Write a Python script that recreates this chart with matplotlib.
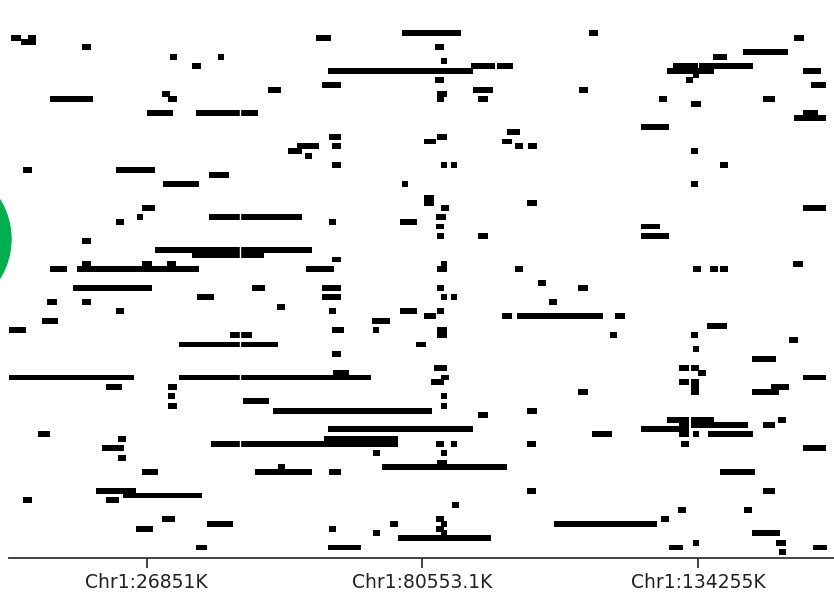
import matplotlib
matplotlib.use('Agg')
import matplotlib.pyplot as plt
from matplotlib.patches import Ellipse

# genome is shown in bins of ~194.9 Kb, rows are samples (top to bottom)
BIN_KB = 194.9
N_ROWS = 111.86
N_BINS = 825

tick_kb = [26851, 80553.1, 134255]
tick_labels = ['Chr1:26851K', 'Chr1:80553.1K', 'Chr1:134255K']

# sample row -> list of (start_bin, end_bin) blocks
row_ids = [0, 1, 2, 3, 4, 5, 6, 7, 8, 9, 10, 11, 12, 13, 14, 15, 17, 18, 20, 21,
           22, 23, 24, 25, 26, 28, 29, 30, 32, 35, 36, 37, 39, 40, 41, 43, 44, 46,
           47, 48, 49, 50, 53, 54, 56, 57, 58, 59, 60, 61, 62, 63, 64, 65, 66, 67,
           68, 69, 71, 72, 73, 74, 75, 76, 77, 78, 79, 80, 81, 82, 83, 84, 85, 86,
           87, 88, 89, 90, 91, 92, 93, 97, 98, 99, 100, 101, 103, 104, 105, 106,
           107, 108, 109, 110]
row_spans = [
    [(393, 452), (580, 589)],                                   # 0
    [(2, 12), (19, 27), (307, 322), (785, 795)],                # 1
    [(12, 27)],                                                 # 2
    [(73, 82), (426, 435)],                                     # 3
    [(734, 779)],                                               # 4
    [(161, 168), (209, 215), (704, 718)],                       # 5
    [(432, 438)],                                               # 6
    [(183, 192), (462, 486), (488, 504), (664, 689), (690, 744)],  # 7
    [(319, 464), (658, 705), (794, 812)],                       # 8
    [(684, 690)],                                               # 9
    [(426, 435), (677, 684)],                                   # 10
    [(313, 332), (802, 817)],                                   # 11
    [(259, 272), (464, 484), (570, 579)],                       # 12
    [(153, 161), (428, 438)],                                   # 13
    [(41, 84), (159, 168), (428, 435), (469, 479), (650, 658), (754, 766)],  # 14
    [(682, 692)],                                               # 15
    [(138, 164), (187, 249), (794, 809)],                       # 17
    [(785, 817)],                                               # 18
    [(632, 660)],                                               # 20
    [(498, 511)],                                               # 21
    [(320, 332), (428, 438)],                                   # 22
    [(415, 427), (493, 503)],                                   # 23
    [(288, 310), (323, 332), (506, 514), (519, 528)],           # 24
    [(279, 293), (682, 689)],                                   # 25
    [(296, 303)],                                               # 26
    [(323, 332), (432, 438), (442, 448), (711, 719)],           # 28
    [(14, 23), (107, 146)],                                     # 29
    [(200, 220)],                                               # 30
    [(154, 190), (393, 399), (682, 689)],                       # 32
    [(415, 425)],                                               # 35
    [(415, 425), (518, 528)],                                   # 36
    [(133, 146), (432, 440), (794, 817)],                       # 37
    [(128, 134), (200, 293), (427, 437)],                       # 39
    [(107, 115), (320, 327), (391, 408)],                       # 40
    [(427, 435), (632, 651)],                                   # 41
    [(428, 435), (469, 479), (632, 660)],                       # 43
    [(73, 82)],                                                 # 44
    [(146, 303)],                                               # 46
    [(183, 255)],                                               # 47
    [(323, 332)],                                               # 48
    [(73, 82), (133, 143), (158, 167), (432, 438), (784, 794)],  # 49
    [(41, 58), (68, 190), (297, 325), (428, 438), (506, 514), (684, 692),
     (701, 709), (711, 719)],                                   # 50
    [(529, 537)],                                               # 53
    [(64, 143), (243, 256), (313, 332), (428, 435), (569, 579)],  # 54
    [(188, 205), (313, 332), (432, 438), (442, 448)],           # 56
    [(38, 48), (73, 82), (540, 548)],                           # 57
    [(268, 276)],                                               # 58
    [(107, 115), (320, 327), (391, 408), (428, 435)],           # 59
    [(415, 427), (493, 503), (508, 594), (606, 616)],           # 60
    [(33, 49), (363, 381)],                                     # 61
    [(698, 718)],                                               # 62
    [(0, 17), (323, 335), (364, 370), (428, 438)],              # 63
    [(221, 243), (428, 438), (601, 608), (682, 689)],           # 64
    [(780, 789)],                                               # 65
    [(170, 269), (407, 417)],                                   # 66
    [(684, 690)],                                               # 67
    [(323, 332)],                                               # 68
    [(743, 767)],                                               # 69
    [(425, 438), (670, 680), (682, 690)],                       # 71
    [(324, 340), (689, 697)],                                   # 72
    [(0, 125), (170, 362), (432, 440), (794, 817)],             # 73
    [(422, 435), (670, 680), (682, 690)],                       # 74
    [(97, 113), (159, 168), (682, 690), (762, 780)],            # 75
    [(569, 579), (682, 690), (743, 770)],                       # 76
    [(159, 166), (432, 438)],                                   # 77
    [(234, 260)],                                               # 78
    [(159, 168), (432, 438)],                                   # 79
    [(264, 423), (518, 528)],                                   # 80
    [(469, 479)],                                               # 81
    [(658, 680), (682, 705), (769, 777)],                       # 82
    [(670, 680), (682, 739), (754, 766)],                       # 83
    [(319, 464), (632, 680)],                                   # 84
    [(29, 41), (583, 603), (670, 680), (684, 690), (699, 744)],  # 85
    [(109, 117), (315, 389)],                                   # 86
    [(202, 389), (427, 435), (442, 448), (518, 527), (672, 680)],  # 87
    [(93, 115), (794, 817)],                                    # 88
    [(364, 371), (432, 438)],                                   # 89
    [(109, 117)],                                               # 90
    [(428, 438)],                                               # 91
    [(269, 276), (373, 498)],                                   # 92
    [(133, 149), (246, 303), (320, 332), (711, 746)],           # 93
    [(87, 127), (518, 527), (754, 766)],                        # 97
    [(114, 193)],                                               # 98
    [(14, 23), (97, 110)],                                      # 99
    [(443, 450)],                                               # 100
    [(669, 677), (735, 743)],                                   # 101
    [(153, 166), (427, 435), (652, 660)],                       # 103
    [(198, 224), (381, 389), (432, 438), (545, 648)],           # 104
    [(127, 144), (320, 327), (427, 435)],                       # 105
    [(364, 371), (432, 438), (743, 771)],                       # 106
    [(389, 482)],                                               # 107
    [(684, 690), (767, 777)],                                   # 108
    [(187, 198), (319, 352), (660, 674), (804, 818)],           # 109
    [(770, 777)],                                               # 110
]

fig = plt.figure(figsize=(8.34, 5.94), dpi=100)
ax = fig.add_axes([9 / 834, 36 / 594, 825 / 834, 528 / 594])

for r, spans in zip(row_ids, row_spans):
    ax.broken_barh([(s, e - s) for s, e in spans], (r, 1.25),
                   facecolors='black', linewidth=0)

# thin white seam through the blocks (kept under the axis line)
ax.axvline(231, ymin=0.01, color='white', lw=1.0, zorder=2.2)

ax.set_xlim(0, N_BINS)
ax.set_ylim(N_ROWS, 0)
for side in ['top', 'left', 'right']:
    ax.spines[side].set_visible(False)
ax.spines['bottom'].set_color('#333333')
ax.spines['bottom'].set_linewidth(1.3)
ax.spines['bottom'].set_zorder(3)
ax.set_yticks([])
ax.set_xticks([k / BIN_KB for k in tick_kb])
ax.set_xticklabels(tick_labels, fontsize=13.5, color='#222222')
ax.tick_params(axis='x', length=7, width=1.3, color='#333333', pad=4)

# green marker cut off at the left edge
fig.add_artist(Ellipse((-63.6 / 834, 355 / 594), 2 * 74.6 / 834, 2 * 74.6 / 594,
                       transform=fig.transFigure, color='#00b050', clip_on=False))

fig.savefig('out.png', dpi=100, facecolor='white')
